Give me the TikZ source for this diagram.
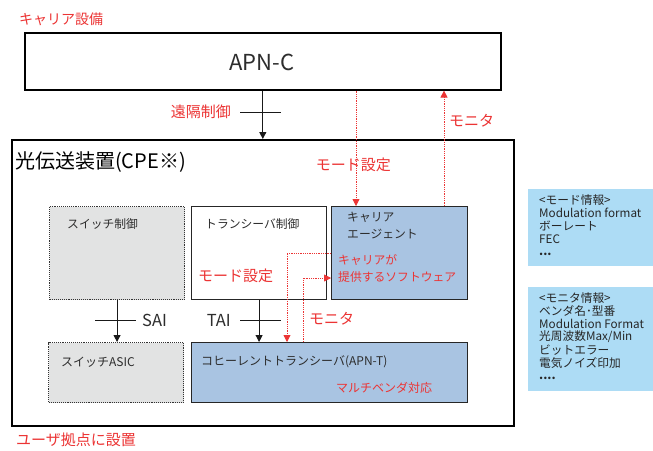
\documentclass[tikz,border=0pt]{standalone}
\usepackage{fontspec}
\setmainfont{Noto Sans CJK JP}
\usetikzlibrary{arrows.meta}
\definecolor{redtxt}{RGB}{236,52,52}
\definecolor{agentblue}{RGB}{169,196,226}
\definecolor{infoblue}{RGB}{173,220,245}
\definecolor{swgray}{RGB}{226,227,227}
\definecolor{txtgray}{RGB}{45,45,45}
\newcommand{\fs}[1]{\fontsize{#1}{#1}\selectfont}
\tikzset{
  bigbox/.style={draw=black, line width=1.6pt, inner sep=0pt, anchor=north west, fill=white},
  solidbox/.style={draw=black!85, line width=1.2pt, inner sep=0pt, anchor=north west},
  dotbox/.style={draw=black!80, line width=1.1pt, densely dotted, fill=swgray, inner sep=0pt, anchor=north west},
  infobox/.style={fill=infoblue, inner sep=0pt, anchor=north west},
  lbl/.style={inner sep=0pt, anchor=west, text=txtgray},
  infolbl/.style={inner sep=0pt, anchor=west, text=black!85, font=\fs{11.7}},
  dotslbl/.style={inner sep=0pt, anchor=base west, text=black!85, font=\fs{11.7}\bfseries},
  redlbl/.style={inner sep=0pt, anchor=west, text=redtxt},
  arr/.style={draw=black!90, line width=0.9pt, -{Triangle[length=7pt,width=7pt]}},
  tick/.style={draw=black!90, line width=0.9pt},
  redarr/.style={draw=redtxt, line width=0.8pt, densely dotted, -{Triangle[length=7pt,width=7pt]}},
}
\begin{document}
\begin{tikzpicture}[x=1pt,y=-1pt]
\useasboundingbox[fill=white] (0,0) rectangle (653,450);

% info boxes
\node[infobox, minimum width=125pt, minimum height=77pt] (info1) at (528,189) {};
\node[infobox, minimum width=125pt, minimum height=104pt] (info2) at (528,287) {};

% main boxes
\node[bigbox, minimum width=476pt, minimum height=57pt] (apnc) at (24,32) {};
\node[bigbox, minimum width=502pt, minimum height=286pt] (cpe) at (11,139) {};

\node[dotbox, minimum width=135pt, minimum height=93pt] (swc) at (49,206) {};
\node[solidbox, fill=white, minimum width=135pt, minimum height=93pt] (tc) at (191,206) {};
\node[solidbox, fill=agentblue, minimum width=136pt, minimum height=93pt] (agent) at (331,206) {};
\node[dotbox, minimum width=135pt, minimum height=60pt] (asic) at (48,342) {};
\node[solidbox, fill=agentblue, minimum width=276pt, minimum height=60pt] (coh) at (191,342) {};

% texts
\node[redlbl] (tcarrier) at (19,19) {\fs{14}キャリア設備};
\node[inner sep=0pt, text=txtgray] (tapnc) at (262,62) {\fs{22}APN-C};
\node[inner sep=0pt, anchor=east, text=redtxt] (tremote) at (231,112) {\fs{15}遠隔制御};
\node[lbl, text=black] (tcpe) at (15,162) {\fs{20}光伝送装置(CPE※)};
\node[inner sep=0pt, anchor=east, text=redtxt] (tmode1) at (391,165) {\fs{15}モード設定};
\node[redlbl] (tmon1) at (449,121) {\fs{15}モニタ};

\node[lbl] (tswc) at (67,224) {\fs{11.8}スイッチ制御};
\node[lbl] (ttc) at (205,224) {\fs{11.8}トランシーバ制御};
\node[redlbl] (tmode2) at (198,276) {\fs{15}モード設定};
\node[lbl] (tagent1) at (347,217) {\fs{11.8}キャリア};
\node[lbl] (tagent2) at (347,234) {\fs{11.8}エージェント};
\node[redlbl] (tsoft1) at (338,260) {\fs{11.8}キャリアが};
\node[redlbl] (tsoft2) at (338,277) {\fs{11.8}提供するソフトウェア};
\node[lbl] (tasic) at (61,362) {\fs{12}スイッチASIC};
\node[lbl] (tcoh) at (201,362) {\fs{12}コヒーレントトランシーバ(APN-T)};
\node[redlbl] (tmulti) at (336,388) {\fs{12}マルチベンダ対応};
\node[lbl] (tsai) at (142,320) {\fs{16.5}SAI};
\node[inner sep=0pt, anchor=east, text=txtgray] (ttai) at (231,320) {\fs{16.5}TAI};
\node[redlbl] (tmon2) at (309,319) {\fs{15}モニタ};
\node[redlbl] (tuser) at (16,440) {\fs{15}ユーザ拠点に設置};

% info texts
\node[infolbl] (i1a) at (539,200) {<モード情報>};
\node[infolbl] (i1b) at (539,213) {Modulation format};
\node[infolbl] (i1c) at (539,226) {ボーレート};
\node[infolbl] (i1d) at (539,239) {FEC};
\node[dotslbl] (i1e) at (539,255) {...};
\node[infolbl] (i2a) at (539,298) {<モニタ情報>};
\node[infolbl] (i2b) at (539,311) {ベンダ名･型番};
\node[infolbl] (i2c) at (539,324) {Modulation Format};
\node[infolbl] (i2d) at (539,337) {光周波数Max/Min};
\node[infolbl] (i2e) at (539,350) {ビットエラー};
\node[infolbl] (i2f) at (539,363) {電気ノイズ印加};
\node[dotslbl] (i2g) at (539,379) {....};

% black connectors
\draw[arr] (apnc.south) -- (apnc.south |- cpe.north);
\coordinate (k1a) at (240,112); \coordinate (k1b) at (281,112);
\draw[tick] (k1a) -- (k1b);
\draw[arr] (swc.south) -- (swc.south |- asic.north);
\coordinate (k2a) at (95,320); \coordinate (k2b) at (136,320);
\draw[tick] (k2a) -- (k2b);
\draw[arr] (tc.south) -- (tc.south |- coh.north);
\coordinate (k3a) at (240,320); \coordinate (k3b) at (281,320);
\draw[tick] (k3a) -- (k3b);

% red dotted connectors
\coordinate (m1) at (356,0);
\draw[redarr] (m1 |- apnc.south) -- (m1 |- agent.north);
\coordinate (m2) at (444,0);
\draw[redarr] (m2 |- agent.north) -- (m2 |- apnc.south);
\coordinate (m3) at (287,253);
\draw[redarr] (agent.west |- m3) -- (m3) -- (m3 |- coh.north);
\coordinate (m4) at (303,278);
\draw[redarr] (m4 |- coh.north) -- (m4) -- (agent.west |- m4);
\end{tikzpicture}
\end{document}
